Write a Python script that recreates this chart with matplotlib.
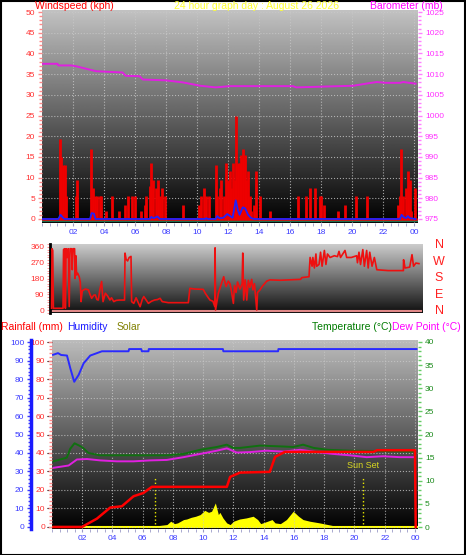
import numpy as np
import matplotlib
matplotlib.use("Agg")
import matplotlib.pyplot as plt
import matplotlib.ticker as ticker
from matplotlib.patches import Rectangle

plt.rcParams['font.family'] = ['Liberation Sans', 'DejaVu Sans']

W, H = 466, 555

# ---- windspeed / barometer (top panel) ----
gust_hours = [1.14, 1.25, 1.35, 1.51, 1.57, 2.17, 2.28, 3.18, 3.29, 3.44, 3.57, 3.72, 3.83,
              4.15, 4.52, 4.95, 5.33, 5.55, 5.83, 5.98, 6.41, 6.62, 6.73, 6.95, 7.05, 7.16,
              7.38, 7.48, 7.59, 7.76, 7.96, 9.10, 10.13, 10.28, 10.45, 10.60, 10.75, 11.20,
              11.31, 11.46, 11.57, 11.74, 11.89, 12.00, 12.11, 12.22, 12.32, 12.43, 12.54,
              12.65, 12.75, 12.86, 12.97, 13.08, 13.18, 13.29, 13.40, 13.51, 13.68, 13.78,
              14.09, 14.69, 16.52, 17.01, 17.27, 17.59, 17.91, 18.02, 18.17, 19.10, 19.53,
              20.28, 20.99, 22.97, 23.08, 23.18, 23.29, 23.50, 23.61, 23.72, 23.83, 24.04]
gust_kph = [19.4, 15, 13, 13, 5.5, 5.5, 9.5, 17, 7.5, 5.5, 5.5, 5.5, 5.5,
            2, 5.5, 2, 3.5, 5.5, 5.5, 5.5, 2, 3.5, 5.5, 8, 13.5, 9.5,
            7.5, 9.5, 5.5, 7.5, 5.5, 3.5, 3.5, 5.5, 7.5, 5.5, 5.5, 13,
            5.5, 7.5, 9.5, 5.5, 13.5, 9.5, 11.5, 7.5, 13.5, 9.5, 25,
            13.5, 13.5, 15.5, 17, 15.5, 9.5, 11.5, 5.5, 2, 3.5, 11.5,
            5.5, 2, 5.5, 5.5, 7.5, 7.5, 5.5, 5.5, 3.5, 2, 3.5,
            5.5, 5.5, 3.5, 5.5, 17, 5.5, 7.5, 11.5, 9.5, 2, 7.5]

avg_hours = [0, 1.05, 1.2, 1.35, 1.45, 3.1, 3.2, 3.35, 3.45, 6.95, 7.05, 7.2, 7.45, 7.6,
             10.5, 10.6, 10.7, 11.2, 11.3, 11.45, 11.7, 11.95, 12.1, 12.3, 12.5, 12.65,
             12.75, 12.95, 13.1, 13.3, 13.5, 13.7, 23.1, 23.2, 23.35, 23.5, 23.6, 23.75, 24.1]
avg_kph = [0, 0, 1.0, 0.3, 0, 0, 1.4, 1.3, 0, 0, 0.5, 0.2, 0.6, 0,
           0, 0.2, 0, 0, 0.7, 0.2, 0.3, 1.2, 0.8, 0.3, 4.5, 2.0,
           1.0, 2.8, 2.6, 1.0, 0.2, 0, 0, 1.0, 0.4, 0.2, 0.7, 0.2, 0]

baro_hours = [0, 1.0, 1.05, 1.9, 2.2, 2.85, 3.5, 5.2, 5.4, 6.3, 6.5, 8.0, 9.1, 10.2,
              11.2, 12.1, 16.2, 16.4, 20.1, 20.9, 21.6, 22.2, 23.1, 23.3, 24.1]
baro_mb = [1012.5, 1012.5, 1012.1, 1012.1, 1011.9, 1011.3, 1010.7, 1010.4, 1009.6, 1009.5,
           1008.7, 1008.5, 1008.0, 1007.2, 1006.8, 1007.1, 1007.1, 1006.8, 1007.2, 1007.7,
           1008.1, 1007.9, 1007.9, 1008.1, 1007.7]

# ---- wind direction (middle panel) ----
dir_hours = [0.10, 0.13, 0.18, 0.22, 0.85, 0.88, 0.95, 1.00, 1.05, 1.12, 1.18, 1.25, 1.30,
             1.40, 1.45, 1.50, 1.60, 1.63, 1.68, 1.73, 1.80, 1.90, 1.97, 2.02, 2.10, 2.30,
             2.50, 2.60, 2.71, 2.85, 2.95, 3.05, 3.14, 3.25, 3.36, 3.45, 3.60, 3.75, 3.90,
             4.00, 4.15, 4.30, 4.50, 4.85, 4.88, 4.95, 5.05, 5.15, 5.27, 5.31, 5.45, 5.60,
             5.86, 6.00, 6.10, 6.40, 6.60, 6.80, 7.00, 7.16, 7.30, 7.70, 9.00, 9.10, 9.40,
             9.97, 10.10, 10.30, 10.41, 10.60, 10.72, 10.74, 10.77, 10.95, 11.15, 11.30,
             11.45, 11.60, 11.71, 11.80, 11.93, 12.00, 12.10, 12.20, 12.36, 12.50, 12.54,
             12.60, 12.70, 12.80, 12.90, 13.00, 13.12, 13.20, 13.30, 13.45, 13.50, 13.66,
             13.80, 14.10, 14.30, 15.00, 16.30, 16.38, 16.85, 16.92, 17.05, 17.10, 17.20,
             17.30, 17.35, 17.50, 17.60, 17.70, 17.85, 17.95, 18.05, 18.22, 18.50, 18.70,
             18.80, 18.90, 19.19, 19.30, 19.60, 19.95, 20.00, 20.10, 20.20, 20.35, 20.45,
             20.60, 20.70, 20.80, 20.95, 21.10, 21.26, 22.00, 22.99, 23.00, 23.10, 23.40,
             23.55, 23.65, 23.80, 24.00]
dir_deg = [10, 350, 340, 10, 10, 345, 350, 10, 350, 300, 350, 20, 350,
           350, 230, 350, 350, 180, 310, 200, 210, 190, 160, 48, 110, 120,
           115, 90, 67, 85, 86, 60, 57, 120, 163, 48, 96, 80, 57,
           70, 48, 55, 57, 57, 325, 290, 280, 300, 306, 48, 38, 70,
           19, 60, 77, 38, 50, 57, 60, 67, 48, 42, 42, 124, 120,
           118, 96, 70, 57, 50, 20, 355, 0, 96, 150, 190,
           134, 165, 150, 110, 38, 140, 100, 160, 120, 150, 325,
           57, 172, 57, 170, 130, 175, 115, 150, 0, 100, 115,
           134, 165, 172, 170, 175, 185, 190, 300, 250, 300, 240,
           320, 250, 260, 330, 250, 340, 260, 320, 300, 310, 305,
           335, 300, 340, 300, 300, 310, 270, 330, 260, 345, 250,
           340, 240, 330, 250, 300, 230, 225, 225, 287, 240, 245,
           316, 250, 268, 265]
compass = ['N', 'W', 'S', 'E', 'N']

# ---- rain / humidity / solar / temperature (bottom panel) ----
hum_hours = [0.07, 0.4, 0.6, 0.99, 1.21, 1.47, 1.76, 2.09, 2.53, 2.97, 3.3, 5.06, 5.1,
             5.9, 5.94, 6.38, 6.4, 11.3, 11.33, 14.95, 14.97, 24.1]
humidity = [93.1, 94, 93, 92.7, 85.8, 78.5, 82.2, 88.5, 92.7, 94, 95, 95, 96.2,
            96.2, 95, 95, 96.2, 96.2, 95, 95, 96.2, 96.2]

rain_hours = [0.1, 1.98, 2.97, 3.85, 4.62, 5.39, 6.05, 6.6, 11.56, 11.78, 12.43, 14.4,
              14.75, 15.4, 21.25, 21.5, 24.0, 24.05]
rain_mm = [0, 0, 4.5, 10.5, 11.2, 16.6, 18.4, 21.7, 21.7, 27.1, 29.4, 29.8,
           37.9, 40.6, 40.6, 41.5, 41.5, 0]

temp_hours = [0.1, 0.98, 1.2, 1.49, 1.98, 2.41, 3.18, 7.6, 8.7, 9.8, 10.9, 11.55, 12.0,
              12.43, 13.76, 15.3, 15.96, 16.6, 17.3, 18.2, 19.7, 22.0, 24.0]
temp_c = [14.2, 15.0, 16.9, 18.1, 17.3, 16.0, 15.5, 15.5, 15.8, 16.7, 17.3, 17.8, 17.1,
          17.1, 17.6, 17.4, 17.3, 17.8, 17.1, 16.7, 16.5, 16.4, 16.3]

dew_hours = [0.1, 1.1, 1.65, 2.31, 3.19, 4.29, 5.39, 6.49, 7.59, 8.7, 9.8, 10.9, 11.56,
             12.22, 13.1, 14.2, 15.3, 16.4, 17.5, 18.6, 19.7, 20.8, 21.9, 23.0, 24.0]
dew_c = [12.8, 13.3, 14.6, 14.7, 14.4, 14.2, 14.2, 14.4, 14.5, 15.1, 15.8, 16.5, 17.0,
         16.1, 16.2, 16.5, 16.3, 16.7, 16.2, 15.8, 15.5, 15.1, 15.3, 15.1, 15.1]

solar_hours = [0, 6.95, 7.0, 7.6, 7.85, 8.1, 8.3, 8.7, 8.9, 9.2, 9.5, 9.8, 10.1, 10.35,
               10.55, 10.8, 11.0, 11.1, 11.3, 11.55, 11.78, 12.0, 12.4, 12.85, 13.3, 13.6,
               13.8, 14.25, 14.55, 14.75, 15.1, 15.5, 15.95, 16.3, 16.6, 17.05, 17.7,
               18.6, 19.5, 20.4, 22.0, 24.1]
solar_wm2 = [0, 0, 7, 13, 31, 18, 22, 40, 43, 52, 58, 67, 90, 79,
             85, 130, 67, 79, 49, 22, 13, 31, 43, 49, 58, 40,
             18, 31, 40, 22, 18, 40, 85, 58, 40, 31, 22,
             7, 2, 1, 0, 0]
sunrise, sunset = 6.82, 20.54

hour_ticks = list(range(2, 25, 2))
hour_labels = [f"{h % 24:02d}" for h in hour_ticks]

fig = plt.figure(figsize=(W / 100, H / 100), dpi=100)
fig.patch.set_facecolor('white')


def px_axes(left, top, right, bottom):
    return fig.add_axes([left / W, 1 - bottom / H, (right - left) / W, (bottom - top) / H])


def gradient(ax, xlim, ylim, top=0.75, bottom=0.0):
    g = np.linspace(top, bottom, 256).reshape(-1, 1)
    ax.imshow(g, extent=[xlim[0], xlim[1], ylim[0], ylim[1]], aspect='auto',
              cmap='gray', vmin=0, vmax=1, zorder=0, origin='upper')
    ax.set_xlim(xlim)
    ax.set_ylim(ylim)


def clean(ax):
    for s in ax.spines.values():
        s.set_visible(False)


def yticks(ax, major, minor, color, tickcolor, side='left', size=6):
    ax.yaxis.set_major_locator(ticker.MultipleLocator(major))
    ax.yaxis.set_minor_locator(ticker.MultipleLocator(minor))
    if side == 'right':
        ax.yaxis.tick_right()
    else:
        ax.yaxis.tick_left()
    ax.tick_params(axis='y', which='both', colors=tickcolor, labelcolor=color,
                   labelsize=size, pad=2, width=1)
    ax.tick_params(axis='y', which='major', length=3)
    ax.tick_params(axis='y', which='minor', length=2)


def xticks(ax, labels=True):
    ax.set_xticks(hour_ticks)
    ax.set_xticklabels(hour_labels if labels else [])
    ax.xaxis.set_minor_locator(ticker.MultipleLocator(0.5))
    ax.tick_params(axis='x', which='both', colors='#9a9ac8', labelcolor='#3a3aff',
                   labelsize=6, pad=2, length=2)


def grid(ax):
    ax.grid(True, which='major', color='#c8c8c8', linestyle=':', linewidth=0.8, alpha=0.8)
    ax.set_axisbelow(False)


# ---------------- top panel ----------------
ax1 = px_axes(42, 10, 418, 223)
gradient(ax1, (0, 24.26), (-0.97, 50.5), 0.76, 0.0)
clean(ax1)
yticks(ax1, 5, 1, '#ff3030', '#ff8888')
xticks(ax1)
grid(ax1)
ax1.axhline(-0.6, color='#1f6e50', lw=1.6, zorder=2)
ax1.vlines(gust_hours, 0, gust_kph, color='#ee0000', lw=2.0, zorder=3)
ax1.plot([0.05, 24.15], [0, 0], color='#ee0000', lw=1.8, zorder=3)
ax1.plot(avg_hours, avg_kph, color='#2020ff', lw=1.3, zorder=4)

ax1b = ax1.twinx()
clean(ax1b)
ax1b.set_ylim(975 - 0.97, 1025.5)
yticks(ax1b, 5, 1, '#ff30ff', '#ff80ff', side='right')
ax1b.plot(baro_hours, baro_mb, color='#e020e0', lw=1.4, zorder=5)

# ---------------- middle panel ----------------
ax2 = px_axes(50, 244, 422, 313)
gradient(ax2, (0, 24.2), (-17, 377), 0.80, 0.06)
clean(ax2)
ax2.spines['left'].set_visible(True)
ax2.spines['left'].set_color('black')
ax2.spines['left'].set_linewidth(2)
ax2.yaxis.set_major_locator(ticker.FixedLocator([0, 90, 180, 270, 360]))
ax2.yaxis.set_minor_locator(ticker.MultipleLocator(15))
ax2.tick_params(axis='y', which='both', colors='#ff8888', labelcolor='#ff3030',
                labelsize=6, pad=2, length=2)
ax2.set_xticks([])
ax2.axhline(-8, color='#e08888', lw=1.5, zorder=2)
ax2.plot(dir_hours, dir_deg, color='#ee1010', lw=1.2, zorder=3)
for i, letter in enumerate(compass):
    fig.text(439 / W, 1 - (245 + 16.5 * i) / H, letter, color='#ff2020', fontsize=9,
             ha='center', va='center')

# ---------------- bottom panel ----------------
ax3 = px_axes(52, 340, 418, 529)
gradient(ax3, (0, 24.2), (-11, 1011), 0.74, 0.0)
clean(ax3)
ax3.set_yticks([0, 100, 200, 300, 400, 500, 600, 700, 800, 900, 1000])
ax3.tick_params(axis='y', which='both', left=False, labelleft=False)
xticks(ax3)
grid(ax3)
ax3.fill_between(solar_hours, 0, solar_wm2, color='#ffff00', lw=0, zorder=2)
ax3.plot([0.05, 24.15], [0, 0], color='#ffff00', lw=1.5, zorder=2)
for h in (sunrise, sunset):
    ax3.plot([h, h], [15, 270], color='#e8e800', lw=1, linestyle=':', zorder=2)
ax3.text(sunset, 330, 'Sun Set', color='#d8d820', fontsize=6.5, ha='center', va='center',
         zorder=3)

ax3t = ax3.twinx()
clean(ax3t)
ax3t.set_ylim(-0.43, 40.43)
yticks(ax3t, 5, 1, '#1a8a1a', '#66cc66', side='right')
ax3t.plot(temp_hours, temp_c, color='#107010', lw=1.4)
ax3t.plot(dew_hours, dew_c, color='#e020e0', lw=1.4)

ax3r = ax3.twinx()
clean(ax3r)
ax3r.set_ylim(-1.1, 101.1)
yticks(ax3r, 10, 2, '#ff3030', '#ff8888', side='left')
ax3r.plot(rain_hours, rain_mm, color='#ff0000', lw=1.8)
ax3r.plot(hum_hours, humidity, color='#2a2aff', lw=1.4)

ax3h = ax3.twinx()
ax3h.set_ylim(-1.1, 101.1)
for s in ax3h.spines.values():
    s.set_visible(False)
ax3h.spines['left'].set_visible(True)
ax3h.spines['left'].set_position(('outward', 15))
ax3h.spines['left'].set_color('#1a1aff')
ax3h.spines['left'].set_linewidth(2.5)
yticks(ax3h, 10, 2, '#3a3aff', '#3a3aff', side='left')

# ---------------- header texts ----------------
def head(x, y, s, color, ha='left'):
    fig.text(x / W, 1 - y / H, s, color=color, fontsize=7.5, ha=ha, va='center')


head(35, 6, 'Windspeed (kph)', '#ff0000')
head(257, 6, '24 hour graph day : August 26 2026', '#ffff30', ha='center')
head(443, 6, 'Barometer (mb)', '#ff00ff', ha='right')
head(1, 327, 'Rainfall (mm)', '#ff0000')
head(67, 327, 'Humidity', '#1a1aff')
head(117, 327, 'Solar', '#808000')
head(392, 327, 'Temperature (°C)', '#007a00', ha='right')
head(392, 327, 'Dew Point (°C)', '#ff00ff')

fig.add_artist(Rectangle((0.5 / W, 0.5 / H), 1 - 1.5 / W, 1 - 1.5 / H,
                         transform=fig.transFigure, fill=False, edgecolor='black', lw=1.5))

fig.savefig('out.png', dpi=100)
